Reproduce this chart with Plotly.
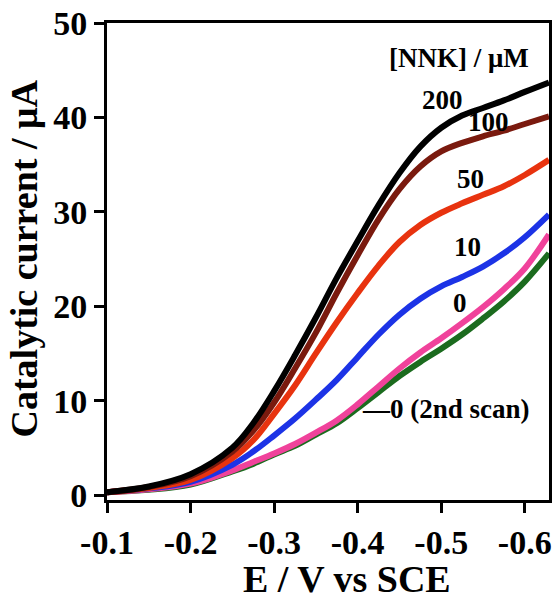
import plotly.graph_objects as go

# Potential (V vs SCE)
E = [-0.10, -0.15, -0.20, -0.25, -0.275, -0.30, -0.325, -0.35, -0.375, -0.40,
     -0.425, -0.45, -0.475, -0.50, -0.525, -0.55, -0.575, -0.60, -0.629]

# Catalytic current (uA) for each [NNK]
i_200 = [0.3, 0.9, 2.2, 5.0, 7.6, 11.0, 14.8, 18.8, 23.0, 26.9, 30.7, 34.1, 36.9, 38.9, 40.2, 41.0, 41.8, 42.7, 43.7]
i_100 = [0.3, 0.85, 2.0, 4.6, 6.8, 9.8, 13.4, 17.2, 21.4, 25.4, 29.2, 32.4, 34.8, 36.4, 37.3, 38.0, 38.6, 39.3, 40.1]
i_50 = [0.3, 0.75, 1.6, 3.9, 5.8, 8.6, 11.6, 15.0, 18.3, 21.4, 24.3, 26.8, 28.6, 29.9, 30.9, 31.8, 32.7, 33.9, 35.5]
i_10 = [0.3, 0.7, 1.4, 3.2, 4.6, 6.3, 8.1, 10.1, 12.2, 14.6, 17.0, 19.1, 20.8, 22.1, 23.1, 24.2, 25.6, 27.3, 29.7]
i_0 = [0.3, 0.6, 1.2, 2.6, 3.5, 4.4, 5.4, 6.6, 7.9, 9.6, 11.5, 13.4, 15.1, 16.6, 18.2, 19.9, 21.8, 24.0, 27.6]
i_0_2nd = [0.3, 0.55, 1.1, 2.5, 3.3, 4.3, 5.2, 6.4, 7.6, 9.2, 10.9, 12.6, 14.1, 15.5, 17.0, 18.7, 20.5, 22.6, 25.6]

series_names = ["0 (2nd scan)", "0", "10", "50", "100", "200"]
series_vals = [i_0_2nd, i_0, i_10, i_50, i_100, i_200]
series_colors = ["#1b6b1e", "#f0429b", "#1c33e6", "#e8330f", "#7a1a0e", "#000000"]

x_tickvals = [-0.1, -0.2, -0.3, -0.4, -0.5, -0.6]
x_ticktext = ["-0.1", "-0.2", "-0.3", "-0.4", "-0.5", "-0.6"]
y_tickvals = [0, 10, 20, 30, 40, 50]

# label positions (data coords)
labels = ["200", "100", "50", "10", "0", "\u20140 (2nd scan)"]
label_x = [-0.501, -0.557, -0.535, -0.532, -0.523, -0.506]
label_y = [41.8, 39.5, 33.5, 26.3, 20.3, 9.1]

FONT = "Liberation Serif"

fig = go.Figure()
for name, vals, col in zip(series_names, series_vals, series_colors):
    fig.add_trace(go.Scatter(x=E, y=vals, mode="lines", name=name,
                             line=dict(color=col, width=6, shape="spline", smoothing=1.0),
                             showlegend=False))

for t, lx, ly in zip(labels, label_x, label_y):
    fig.add_annotation(x=lx, y=ly, xref="x", yref="y", text=t, showarrow=False,
                       font=dict(family=FONT, size=27, color="black", weight="bold"))

fig.add_annotation(x=-0.521, y=46.3, xref="x", yref="y", text="[NNK] / \u03bcM", showarrow=False,
                   font=dict(family=FONT, size=27, color="black", weight="bold"))

fig.add_annotation(x=0.543, y=-0.166, xref="paper", yref="paper", text="E / V vs SCE",
                   showarrow=False, xanchor="center", yanchor="middle",
                   font=dict(family=FONT, size=38, color="black", weight="bold"))
fig.add_annotation(x=-0.187, y=0.507, xref="paper", yref="paper", text="Catalytic current / \u03bcA",
                   showarrow=False, textangle=-90, xanchor="center", yanchor="middle",
                   font=dict(family=FONT, size=38, color="black", weight="bold"))

axis_common = dict(showline=True, linecolor="black", linewidth=3, mirror=True,
                   ticks="outside", ticklen=10, tickwidth=3, tickcolor="black",
                   showgrid=False, zeroline=False, automargin=False,
                   tickfont=dict(family=FONT, size=34, color="black", weight="bold"))

fig.update_xaxes(range=[-0.1, -0.629], tickvals=x_tickvals, ticktext=x_ticktext, **axis_common)
fig.update_yaxes(range=[-0.53, 50], tickvals=y_tickvals, **axis_common)

fig.update_layout(width=555, height=601, margin=dict(l=107, r=6, t=23, b=101, autoexpand=False),
                  paper_bgcolor="white", plot_bgcolor="white")

fig.write_html("out.html", config={"displayModeBar": False},
               post_script="document.body.style.margin='0';document.body.style.padding='0';"
                           "document.body.style.overflow='hidden';")
